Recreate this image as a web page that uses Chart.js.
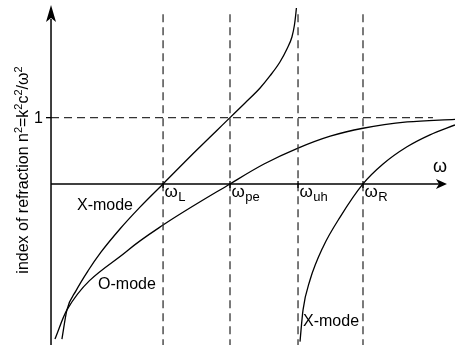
<!DOCTYPE html>
<html>
<head>
<meta charset="utf-8">
<script src="https://cdn.jsdelivr.net/npm/chart.js@4/dist/chart.umd.min.js"></script>
<style>
  html, body { margin: 0; padding: 0; background: #ffffff; }
  #wrap { width: 455px; height: 345px; }
</style>
</head>
<body>
<div id="wrap"><canvas id="c" width="455" height="345"></canvas></div>
<script>
// Frequencies are in units of the electron plasma frequency; n² is dimensionless.
const cutoffNames = ['L', 'pe', 'uh', 'R'];
const cutoffFreqs = [0.626, 1.0, 1.38, 1.743];

// O-mode branch
const oModeW  = [0.022, 0.089, 0.43, 0.626, 1.0, 1.19, 1.38, 1.56, 1.743, 1.99, 2.257];
const oModeN2 = [-2.34, -1.90, -1.00, -0.62, 0.00, 0.30, 0.54, 0.72, 0.84, 0.935, 0.975];

// X-mode, branch between 0 and the upper-hybrid resonance
const xUpperW  = [0.061, 0.089, 0.14, 0.207, 0.279, 0.385, 0.497, 0.626, 0.81, 1.0,
                  1.084, 1.168, 1.223, 1.279, 1.318, 1.346, 1.360, 1.367, 1.371];
const xUpperN2 = [-2.34, -1.90, -1.61, -1.31, -1.03, -0.68, -0.35, 0.00, 0.50, 1.00,
                  1.222, 1.448, 1.629, 1.840, 2.036, 2.217, 2.398, 2.549, 2.655];

// X-mode, branch above the upper-hybrid resonance
const xLowerW  = [1.391, 1.408, 1.447, 1.52, 1.615, 1.743, 1.855, 1.989, 2.117, 2.257];
const xLowerN2 = [-2.38, -1.90, -1.45, -0.95, -0.50, 0.00, 0.30, 0.56, 0.74, 0.89];

const yTickValues = [1];
const yTickLabels = ['1'];

const modeLabels = ['X-mode', 'O-mode', 'X-mode'];

const FONT = '"Liberation Sans", Arial, Helvetica, sans-serif';

function pts(xs, ys) { return xs.map((x, i) => ({ x: x, y: ys[i] })); }

const curveStyle = {
  borderColor: '#000000', borderWidth: 1.3, pointRadius: 0, showLine: true,
  fill: false, cubicInterpolationMode: 'monotone'
};
const dashStyle = {
  borderColor: '#333333', borderWidth: 1.3, pointRadius: 0, showLine: true,
  fill: false, borderDash: [8, 5], tension: 0
};

const datasets = [];
// dashed cutoff / resonance lines
cutoffFreqs.forEach(w => {
  datasets.push(Object.assign({ data: [{ x: w, y: 2.56 }, { x: w, y: -2.43 }] }, dashStyle));
});
// dashed n² = 1 reference
datasets.push(Object.assign({ data: [{ x: 0, y: yTickValues[0] }, { x: 2.134, y: yTickValues[0] }] }, dashStyle));
// dispersion curves
datasets.push(Object.assign({ data: pts(oModeW, oModeN2) }, curveStyle));
datasets.push(Object.assign({ data: pts(xUpperW, xUpperN2) }, curveStyle));
datasets.push(Object.assign({ data: pts(xLowerW, xLowerN2) }, curveStyle));

const axesPlugin = {
  id: 'axesAndLabels',
  afterDatasetsDraw(chart) {
    const ctx = chart.ctx;
    const xs = chart.scales.x, ys = chart.scales.y;
    const X = v => xs.getPixelForValue(v);
    const Y = v => ys.getPixelForValue(v);
    const x0 = X(0), y0 = Y(0);

    ctx.save();
    ctx.strokeStyle = '#000';
    ctx.fillStyle = '#000';
    ctx.lineWidth = 1.5;

    // vertical axis with arrow
    const yTip = Y(2.70);
    ctx.beginPath();
    ctx.moveTo(x0, chart.height);
    ctx.lineTo(x0, yTip + 14);
    ctx.stroke();
    ctx.beginPath();
    ctx.moveTo(x0, yTip);
    ctx.lineTo(x0 - 5, yTip + 17);
    ctx.lineTo(x0, yTip + 13);
    ctx.lineTo(x0 + 5, yTip + 17);
    ctx.closePath();
    ctx.fill();

    // horizontal axis with arrow
    const xTip = X(2.212);
    ctx.beginPath();
    ctx.moveTo(x0, y0);
    ctx.lineTo(xTip - 8, y0);
    ctx.stroke();
    ctx.beginPath();
    ctx.moveTo(xTip, y0);
    ctx.lineTo(xTip - 11, y0 - 5);
    ctx.lineTo(xTip - 8, y0);
    ctx.lineTo(xTip - 11, y0 + 5);
    ctx.closePath();
    ctx.fill();

    // ticks on the frequency axis
    ctx.lineWidth = 1.3;
    cutoffFreqs.forEach(w => {
      ctx.beginPath();
      ctx.moveTo(X(w), y0 - 3);
      ctx.lineTo(X(w), y0 + 4);
      ctx.stroke();
    });

    // n² ticks and labels
    ctx.font = '16px ' + FONT;
    ctx.textAlign = 'right';
    ctx.textBaseline = 'middle';
    yTickValues.forEach((v, i) => {
      ctx.beginPath();
      ctx.moveTo(x0 - 5, Y(v));
      ctx.lineTo(x0, Y(v));
      ctx.stroke();
      ctx.fillText(yTickLabels[i], x0 - 8, Y(v) + 1);
    });

    // ω axis title
    ctx.font = '18px ' + FONT;
    ctx.textAlign = 'right';
    ctx.textBaseline = 'alphabetic';
    ctx.fillText('ω', xTip, y0 - 12);

    // cutoff labels ω with subscript
    ctx.textAlign = 'left';
    cutoffFreqs.forEach((w, i) => {
      const px = X(w) + 1.5;
      ctx.font = '17px ' + FONT;
      ctx.fillText('ω', px, y0 + 13);
      const ww = ctx.measureText('ω').width;
      ctx.font = '13px ' + FONT;
      ctx.fillText(cutoffNames[i], px + ww + 0.5, y0 + 17);
    });

    // branch names
    ctx.font = '16px ' + FONT;
    ctx.textBaseline = 'middle';
    ctx.fillText(modeLabels[0], X(0.145), Y(-0.33));
    ctx.fillText(modeLabels[1], X(0.263), Y(-1.52));
    ctx.fillText(modeLabels[2], X(1.408), Y(-2.08));

    // rotated vertical axis title with superscripts
    const parts = [
      ['index of refraction n', false], ['2', true], ['=k', false], ['2', true],
      ['c', false], ['2', true], ['/ω', false], ['2', true]
    ];
    const mainFont = '16px ' + FONT, supFont = '11px ' + FONT;
    let total = 0;
    parts.forEach(p => { ctx.font = p[1] ? supFont : mainFont; total += ctx.measureText(p[0]).width; });
    ctx.translate(28, 170);
    ctx.rotate(-Math.PI / 2);
    ctx.textBaseline = 'alphabetic';
    ctx.textAlign = 'left';
    let cx = -total / 2;
    parts.forEach(p => {
      ctx.font = p[1] ? supFont : mainFont;
      ctx.fillText(p[0], cx, p[1] ? -6 : 0);
      cx += ctx.measureText(p[0]).width;
    });
    ctx.restore();
  }
};

new Chart(document.getElementById('c'), {
  type: 'scatter',
  data: { datasets: datasets },
  options: {
    responsive: false,
    devicePixelRatio: 1,
    animation: false,
    layout: { padding: 0 },
    plugins: { legend: { display: false }, tooltip: { enabled: false } },
    scales: {
      x: { type: 'linear', display: false, min: -0.285, max: 2.257 },
      y: { type: 'linear', display: false, min: -2.43, max: 2.775 }
    }
  },
  plugins: [axesPlugin]
});
</script>
</body>
</html>
